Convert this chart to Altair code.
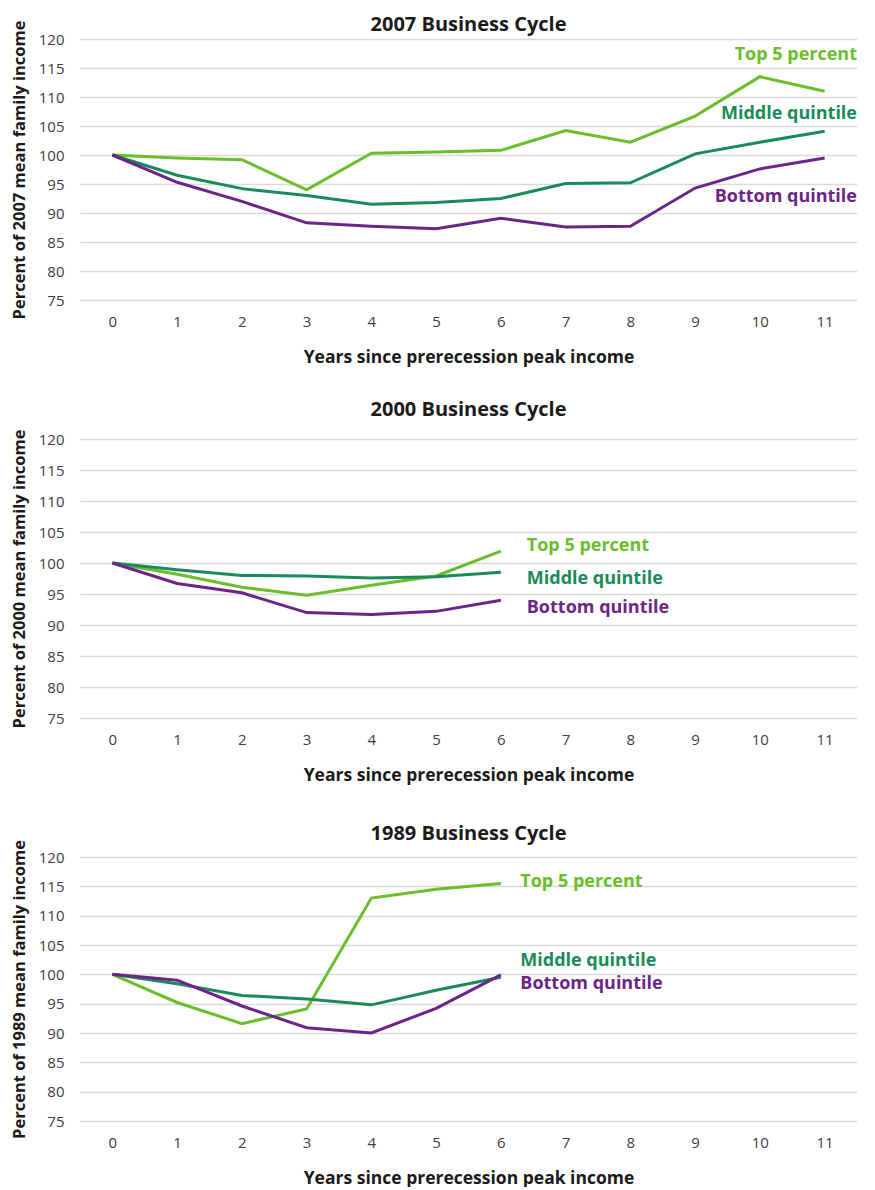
import altair as alt
import pandas as pd

series_names = ["Top 5 percent", "Middle quintile", "Bottom quintile"]
series_colors = ["#6abd2b", "#1b8a5a", "#6b2587"]

years_2007 = list(range(12))
top5_2007 = [100, 99.5, 99.2, 94.0, 100.3, 100.5, 100.8, 104.2, 102.2, 106.7, 113.5, 111.0]
middle_2007 = [100, 96.5, 94.2, 93.0, 91.5, 91.8, 92.5, 95.1, 95.2, 100.2, 102.2, 104.1]
bottom_2007 = [100, 95.3, 92.0, 88.3, 87.7, 87.3, 89.1, 87.6, 87.7, 94.3, 97.6, 99.5]

years_2000 = list(range(7))
top5_2000 = [100, 98.2, 96.1, 94.8, 96.4, 97.9, 101.9]
middle_2000 = [100, 98.9, 98.0, 97.9, 97.6, 97.8, 98.5]
bottom_2000 = [100, 96.7, 95.2, 92.0, 91.7, 92.2, 94.0]

years_1989 = list(range(7))
top5_1989 = [100, 95.2, 91.6, 94.1, 113.0, 114.5, 115.5]
middle_1989 = [100, 98.4, 96.4, 95.8, 94.8, 97.3, 99.5]
bottom_1989 = [100, 99.0, 94.6, 90.9, 90.0, 94.2, 99.9]

# label anchor positions in data units (year, percent)
label_x_2007 = [11.5, 11.5, 11.5]
label_y_2007 = [117.2, 107.1, 92.7]
label_x_2000 = [6.4, 6.4, 6.4]
label_y_2000 = [102.8, 97.5, 92.7]
label_x_1989 = [6.3, 6.3, 6.3]
label_y_1989 = [115.7, 102.2, 98.3]

y_ticks = list(range(75, 121, 5))
x_ticks = list(range(12))

FONT = "Open Sans"


def panel(year, years, series, lx, ly, align, height, title_offset):
    rows = []
    for name, vals in zip(series_names, series):
        for x, v in zip(years, vals):
            rows.append({"year": x, "value": v, "series": name})
    df = pd.DataFrame(rows)
    lab = pd.DataFrame({"series": series_names, "x": lx, "y": ly})

    color = alt.Color("series:N", scale=alt.Scale(domain=series_names, range=series_colors), legend=None)

    xenc = alt.X(
        "year:Q",
        scale=alt.Scale(domain=[-0.5, 11.5], nice=False, zero=False),
        axis=alt.Axis(
            values=x_ticks, tickCount=len(x_ticks), grid=False, domain=False, ticks=False, format="d",
            labelOverlap=False,
            title="Years since prerecession peak income", labelPadding=14, titlePadding=19,
        ),
    )
    yenc = alt.Y(
        "value:Q",
        scale=alt.Scale(domain=[75, 120], nice=False, zero=False),
        axis=alt.Axis(
            values=y_ticks, tickCount=len(y_ticks), grid=True, domain=False, ticks=False,
            labelOverlap=False,
            title=f"Percent of {year} mean family income", labelPadding=16, titlePadding=11,
        ),
    )

    lines = alt.Chart(df).mark_line(strokeWidth=3).encode(
        x=xenc, y=yenc, color=color, detail="series:N"
    )
    texts = alt.Chart(lab).mark_text(
        align=align, baseline="middle", font=FONT, fontSize=18, fontWeight="bold"
    ).encode(
        x=alt.X("x:Q"), y=alt.Y("y:Q"), text="series:N", color=color
    )
    return alt.layer(lines, texts).properties(
        width=777,
        height=height,
        title=alt.TitleParams(f"{year} Business Cycle", offset=title_offset),
    )


p1 = panel("2007", years_2007, [top5_2007, middle_2007, bottom_2007], label_x_2007, label_y_2007,
           "right", 261, -15)
p2 = panel("2000", years_2000, [top5_2000, middle_2000, bottom_2000], label_x_2000, label_y_2000,
           "left", 279, 9)
p3 = panel("1989", years_1989, [top5_1989, middle_1989, bottom_1989], label_x_1989, label_y_1989,
           "left", 264, -4)

chart = alt.vconcat(p1, p2, p3, spacing=139, bounds="flush").properties(
    padding={"left": 3, "top": 7, "right": 0, "bottom": 0}
).configure_view(
    stroke=None
).configure_axis(
    labelFont=FONT, labelFontSize=15, labelColor="#404040",
    titleFont=FONT, titleFontSize=17.5, titleFontWeight="bold", titleColor="#1a1a1a",
    gridColor="#d9d9d9", gridWidth=1.5,
).configure_axisY(
    titleFontSize=16.5,
).configure_title(
    font=FONT, fontSize=20, fontWeight="bold", color="#1a1a1a", anchor="middle"
)

chart.save("out.html", embed_options={"renderer": "svg", "actions": False})
